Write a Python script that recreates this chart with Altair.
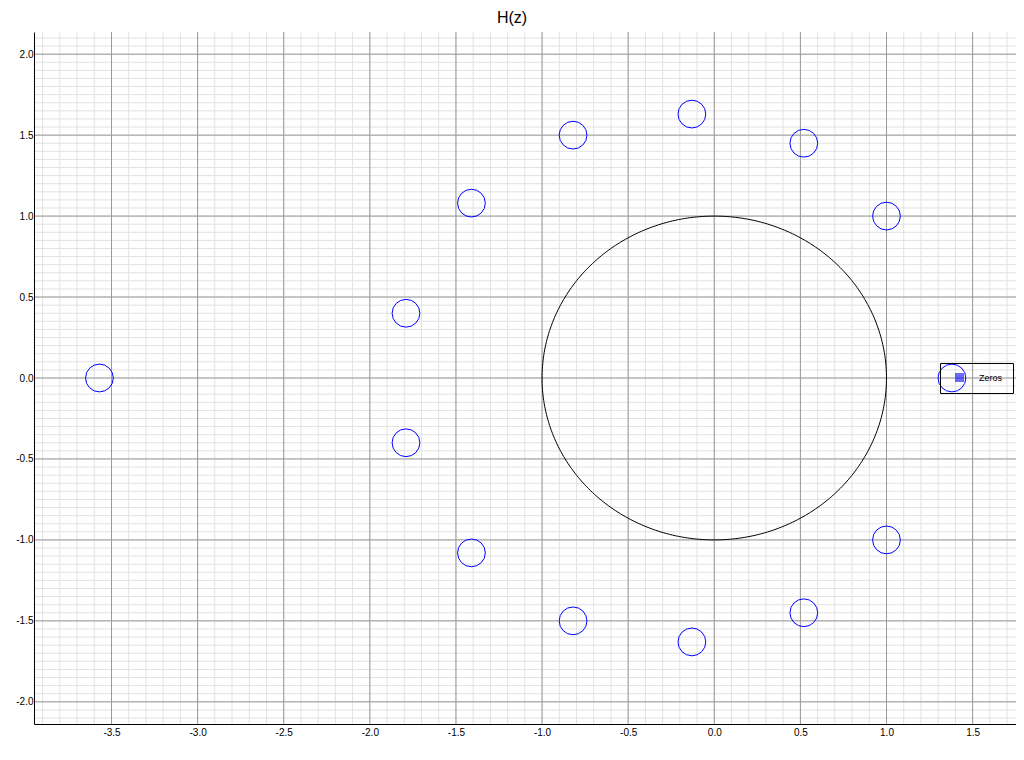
import altair as alt
import numpy as np
import pandas as pd

# Zeros of H(z)
zeros_re = [-3.57, -1.79, -1.79, -1.41, -1.41, -0.82, -0.82, -0.13, -0.13, 0.52, 0.52, 1.0, 1.0, 1.38]
zeros_im = [0.0, 0.40, -0.40, 1.08, -1.08, 1.50, -1.50, 1.63, -1.63, 1.45, -1.45, 1.0, -1.0, 0.0]
series_names = ["Zeros"]

x_ticks = [-3.5, -3.0, -2.5, -2.0, -1.5, -1.0, -0.5, 0.0, 0.5, 1.0, 1.5]
y_ticks = [-2.0, -1.5, -1.0, -0.5, 0.0, 0.5, 1.0, 1.5, 2.0]
x_domain = [-3.95, 1.752]
y_domain = [-2.137, 2.137]

# grid positions
x_minor = [round(v, 2) for v in np.arange(-3.9, 1.71, 0.1)]
y_minor = [round(v, 2) for v in np.arange(-2.1, 2.101, 0.05)]

# unit circle
theta = np.linspace(0, 2 * np.pi, 361)
circle_df = pd.DataFrame({"re": np.cos(theta), "im": np.sin(theta), "k": np.arange(361)})
zeros_df = pd.DataFrame({"re": zeros_re, "im": zeros_im})
legend_df = pd.DataFrame({"series": series_names, "re": [None], "im": [None]})

xs = alt.Scale(domain=x_domain, nice=False, zero=False)
ys = alt.Scale(domain=y_domain, nice=False, zero=False)
FONT = "Liberation Sans"
LABEL = "replace(format(datum.value, '.1f'), '\u2212', '-')"

x_axis = alt.Axis(values=x_ticks, labelExpr=LABEL, grid=False, ticks=False, domainColor="black",
                  domainWidth=1, labelColor="black", labelFont=FONT, labelFontSize=10,
                  labelPadding=3, title=None, zindex=1, labelFlush=False)
y_axis = alt.Axis(values=y_ticks, labelExpr=LABEL, grid=False, ticks=False, domainColor="black",
                  domainWidth=1, labelColor="black", labelFont=FONT, labelFontSize=10,
                  labelPadding=1, title=None, zindex=1, labelFlush=False)

def X(f):
    return alt.X(f, scale=xs, axis=x_axis)

def Y(f):
    return alt.Y(f, scale=ys, axis=y_axis)

vminor = alt.Chart(pd.DataFrame({"v": x_minor})).mark_rule(color="#e2e2e2", strokeWidth=1).encode(x=X("v:Q"))
hminor = alt.Chart(pd.DataFrame({"v": y_minor})).mark_rule(color="#e2e2e2", strokeWidth=1).encode(y=Y("v:Q"))
vmajor = alt.Chart(pd.DataFrame({"v": x_ticks})).mark_rule(color="#999999", strokeWidth=1).encode(x=X("v:Q"))
hmajor = alt.Chart(pd.DataFrame({"v": y_ticks})).mark_rule(color="#999999", strokeWidth=1).encode(y=Y("v:Q"))

unit = alt.Chart(circle_df).mark_line(color="black", strokeWidth=1).encode(
    x=X("re:Q"), y=Y("im:Q"), order="k:Q")

zeros = alt.Chart(zeros_df).mark_point(shape="circle", filled=False, color="blue",
                                       strokeWidth=1.0, size=770, opacity=1).encode(
    x=X("re:Q"), y=Y("im:Q"))

legend_layer = alt.Chart(legend_df).mark_square(opacity=0.58).encode(
    x=X("re:Q"), y=Y("im:Q"),
    fill=alt.Fill("series:N", scale=alt.Scale(domain=series_names, range=["blue"]),
                  legend=alt.Legend(title=None, orient="none", legendX=906, legendY=331,
                                    strokeColor="black", padding=10, symbolType="square",
                                    symbolSize=81, symbolStrokeWidth=0, symbolOpacity=0.58,
                                    symbolOffset=5, labelFontSize=9, labelFont=FONT,
                                    labelColor="black", labelOffset=15)))

chart = alt.layer(vminor, hminor, vmajor, hmajor, unit, zeros, legend_layer).properties(
    width=982, height=692,
    title=alt.TitleParams("H(z)", fontSize=16, font=FONT, fontWeight="normal", color="black",
                          anchor="middle", dx=-13, offset=6),
    autosize=alt.AutoSizeParams(type="none"),
    padding={"left": 26, "top": 24, "right": 0, "bottom": 20},
).configure_view(stroke=None)

chart.save("out.html", embed_options={"renderer": "svg", "actions": False})
